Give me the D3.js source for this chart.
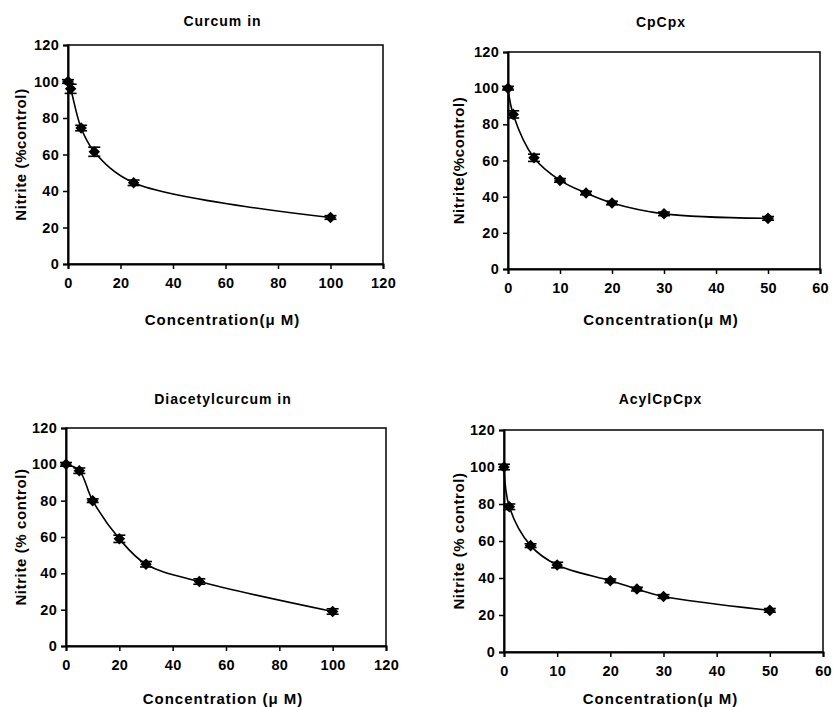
<!DOCTYPE html>
<html><head><meta charset="utf-8">
<script src="https://cdn.jsdelivr.net/npm/d3@7"></script>
<style>body{margin:0;background:#fff}svg{display:block}text{font-family:"Liberation Sans",Arial,sans-serif;font-weight:bold;fill:#000}</style>
</head><body><svg id="c" width="833" height="707"></svg>
<script>
// ---- data ----
const curcuminX = [0, 1, 5, 10, 25, 100];
const curcuminY = [100, 96, 74.5, 61.5, 44.5, 25.5];
const curcuminErr = [1, 2.5, 1.5, 2.5, 1.5, 1];

const cpcpxX = [0, 1, 5, 10, 15, 20, 30, 50];
const cpcpxY = [100, 85.5, 61.5, 49, 42, 36.5, 30.5, 28];
const cpcpxErr = [1, 2, 2, 1, 1, 1, 1, 1];

const diacetylX = [0, 5, 10, 20, 30, 50, 100];
const diacetylY = [100, 96.5, 80, 59, 45, 35.5, 19];
const diacetylErr = [1, 1.5, 1, 2, 1.5, 1.5, 1.5];

const acylX = [0, 1, 5, 10, 20, 25, 30, 50];
const acylY = [100, 78.5, 57.5, 47, 38.5, 34, 30, 22.5];
const acylErr = [1.5, 1.5, 1, 1.5, 1, 1, 1, 1];

const yTicks = [0, 20, 40, 60, 80, 100, 120];
const xTicks120 = [0, 20, 40, 60, 80, 100, 120];
const xTicks60 = [0, 10, 20, 30, 40, 50, 60];

const titles = ["Curcum in", "CpCpx", "Diacetylcurcum in", "AcylCpCpx"];
const yLabels = ["Nitrite (%control)", "Nitrite(%control)", "Nitrite (% control)", "Nitrite (% control)"];
const xLabels = ["Concentration(\u03bc M)", "Concentration(\u03bc M)", "Concentration (\u03bc M)", "Concentration(\u03bc M)"];

// ---- layout ----
const panels = [
  {x: curcuminX, y: curcuminY, e: curcuminErr, xt: xTicks120, xmax: 120,
   L: 68, R: 383, T: 45, B: 264, titleY: 26, xlabY: 325, ylabX: 20, title: titles[0], ylab: yLabels[0], xlab: xLabels[0]},
  {x: cpcpxX, y: cpcpxY, e: cpcpxErr, xt: xTicks60, xmax: 60,
   L: 508, R: 820, T: 52, B: 269, titleY: 27, xlabY: 325, ylabX: 458, title: titles[1], ylab: yLabels[1], xlab: xLabels[1]},
  {x: diacetylX, y: diacetylY, e: diacetylErr, xt: xTicks120, xmax: 120,
   L: 66, R: 386, T: 428, B: 646, titleY: 404, xlabY: 704, ylabX: 20, title: titles[2], ylab: yLabels[2], xlab: xLabels[2]},
  {x: acylX, y: acylY, e: acylErr, xt: xTicks60, xmax: 60,
   L: 504, R: 823, T: 430, B: 652, titleY: 404, xlabY: 704, ylabX: 458, title: titles[3], ylab: yLabels[3], xlab: xLabels[3]}
];

const svg = d3.select("#c");

panels.forEach(p => {
  const g = svg.append("g");
  const xs = d3.scaleLinear().domain([0, p.xmax]).range([p.L, p.R]);
  const ys = d3.scaleLinear().domain([0, 120]).range([p.B, p.T]);

  // frame
  g.append("rect").attr("x", p.L).attr("y", p.T).attr("width", p.R - p.L).attr("height", p.B - p.T)
    .attr("fill", "none").attr("stroke", "#000").attr("stroke-width", 1.5);

  const yAxis = g.append("g").attr("transform", `translate(${p.L},0)`)
    .call(d3.axisLeft(ys).tickValues(yTicks).tickSize(5).tickPadding(4).tickFormat(d3.format("d")));
  const xAxis = g.append("g").attr("transform", `translate(0,${p.B})`)
    .call(d3.axisBottom(xs).tickValues(p.xt).tickSize(5).tickPadding(9).tickFormat(d3.format("d")));
  [yAxis, xAxis].forEach(a => {
    a.select(".domain").attr("stroke-width", 2);
    a.selectAll(".tick line").attr("stroke-width", 1.5);
    a.selectAll("text").attr("font-size", 14.5).attr("letter-spacing", 0.3)
      .attr("font-family", '"Liberation Sans",Arial,sans-serif').attr("font-weight", "bold");
  });

  // title and labels
  g.append("text").attr("x", (p.L + p.R) / 2 - 3).attr("y", p.titleY).attr("text-anchor", "middle")
    .attr("font-size", 14).attr("letter-spacing", 1).text(p.title);
  g.append("text").attr("x", (p.L + p.R) / 2 - 3).attr("y", p.xlabY).attr("text-anchor", "middle")
    .attr("font-size", 15).attr("letter-spacing", 1).text(p.xlab);
  g.append("text").attr("transform", `translate(${p.ylabX},${(p.T + p.B) / 2}) rotate(-90)`)
    .attr("text-anchor", "middle").attr("dominant-baseline", "central")
    .attr("font-size", 15).attr("letter-spacing", 0.6).text(p.ylab);

  const pts = p.x.map((v, i) => ({x: v, y: p.y[i], e: p.e[i]}));

  // smoothed line
  const line = d3.line().x(d => xs(d.x)).y(d => ys(d.y)).curve(d3.curveCatmullRom.alpha(0.5));
  g.append("path").datum(pts).attr("d", line).attr("fill", "none").attr("stroke", "#000").attr("stroke-width", 1.6);

  // error bars
  const eb = g.append("g").attr("stroke", "#000").attr("stroke-width", 1.6);
  pts.forEach(d => {
    const cx = xs(d.x), y1 = ys(d.y + d.e), y2 = ys(d.y - d.e);
    eb.append("line").attr("x1", cx).attr("x2", cx).attr("y1", y1).attr("y2", y2);
    eb.append("line").attr("x1", cx - 6).attr("x2", cx + 6).attr("y1", y1).attr("y2", y1);
    eb.append("line").attr("x1", cx - 6).attr("x2", cx + 6).attr("y1", y2).attr("y2", y2);
  });

  // diamond markers
  g.selectAll("path.m").data(pts).enter().append("path").attr("class", "m")
    .attr("d", d3.symbol().type(d3.symbolDiamond2).size(85))
    .attr("transform", d => `translate(${xs(d.x)},${ys(d.y)})`)
    .attr("fill", "#000");
});
</script></body></html>
